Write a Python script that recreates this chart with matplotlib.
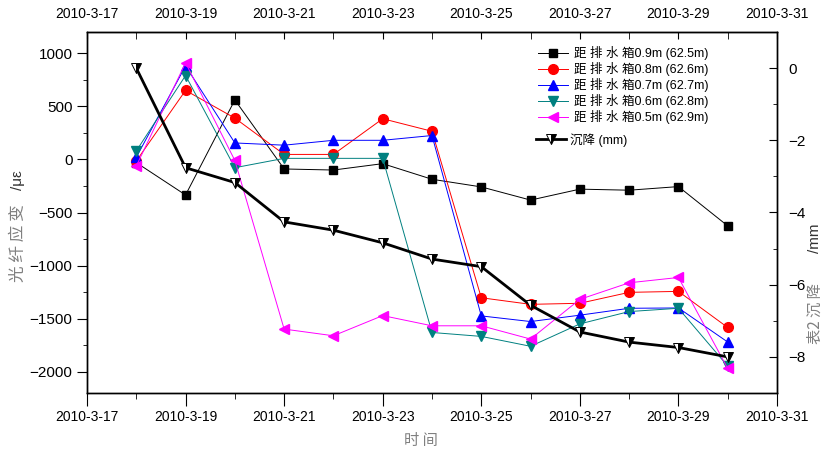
import matplotlib
matplotlib.use("Agg")
import matplotlib.pyplot as plt
import matplotlib.dates as mdates
from matplotlib.ticker import MultipleLocator
import pandas as pd

plt.rcParams['font.family'] = ['Liberation Sans', 'Noto Sans CJK SC', 'DejaVu Sans']

dates = ["2010-03-18", "2010-03-19", "2010-03-20", "2010-03-21", "2010-03-22",
         "2010-03-23", "2010-03-24", "2010-03-25", "2010-03-26", "2010-03-27",
         "2010-03-28", "2010-03-29", "2010-03-30"]
s09 = [-30, -335, 560, -90, -100, -40, -187, -259, -383, -280, -290, -256, -626]
s08 = [-15, 650, 389, 47, 47, 383, 265, -1303, -1365, -1355, -1252, -1243, -1583]
s07 = [20, 880, 155, 134, 180, 180, 225, -1474, -1527, -1467, -1402, -1399, -1720]
s06 = [80, 790, -78, 10, 10, 10, -1630, -1667, -1760, -1549, -1433, -1402, -1947]
s05 = [-62, 910, -10, -1598, -1661, -1471, -1567, -1567, -1692, -1318, -1162, -1112, -1969]
settle = [0.0, -2.76, -3.17, -4.26, -4.49, -4.84, -5.29, -5.50, -6.57, -7.31, -7.59, -7.74, -8.0]
labels = ["距 排 水 箱0.9m (62.5m)", "距 排 水 箱0.8m (62.6m)", "距 排 水 箱0.7m (62.7m)",
          "距 排 水 箱0.6m (62.8m)", "距 排 水 箱0.5m (62.9m)"]
settle_label = "沉降 (mm)"

x = pd.to_datetime(dates)

fig = plt.figure(figsize=(8.23, 4.54), dpi=100)
ax = fig.add_axes([87/823, 1-393/454, (777-87)/823, (393-32)/454])

styles = [("black", "s", 6), ("#FF0000", "o", 7), ("#0000FF", "^", 7.5),
          ("#008080", "v", 7.5), ("#FF00FF", "<", 7.5)]
handles = []
for ser, (c, m, ms), lab in zip([s09, s08, s07, s06, s05], styles, labels):
    h, = ax.plot(x, ser, color=c, lw=0.7, marker=m, ms=ms, mfc=c, mec=c, label=lab)
    handles.append(h)

ax.set_ylim(-2200, 1200)
ax.yaxis.set_major_locator(MultipleLocator(500))
ax.yaxis.set_minor_locator(MultipleLocator(250))
xmin, xmax = pd.Timestamp("2010-03-17"), pd.Timestamp("2010-03-31")
ax.set_xlim(xmin, xmax)
ax.xaxis.set_major_locator(mdates.DayLocator(bymonthday=[17, 19, 21, 23, 25, 27, 29, 31]))
ax.xaxis.set_minor_locator(mdates.DayLocator())
fmt = lambda v, pos: (lambda d: f"{d.year}-{d.month}-{d.day}")(mdates.num2date(v))
ax.xaxis.set_major_formatter(plt.FuncFormatter(fmt))
ax.tick_params(axis='x', which='major', direction='out', length=9, labelsize=10, pad=3)
ax.tick_params(axis='x', which='minor', direction='out', length=4)
ax.tick_params(axis='y', which='major', direction='out', length=7, labelsize=11)
ax.tick_params(axis='y', which='minor', direction='out', length=3)

ax2 = ax.twinx()
h2, = ax2.plot(x, settle, color="black", lw=2, marker="v", ms=7, mfc="black",
               mfcalt="white", fillstyle="right", mec="black", mew=0.7, label=settle_label)
ax2.set_ylim(-9, 1)
ax2.yaxis.set_major_locator(MultipleLocator(2))
ax2.yaxis.set_minor_locator(MultipleLocator(1))
ax2.tick_params(axis='y', which='major', direction='in', length=6, labelsize=11, pad=8)
ax2.tick_params(axis='y', which='minor', direction='in', length=3)

top = ax.secondary_xaxis('top')
top.xaxis.set_major_locator(mdates.DayLocator(bymonthday=[17, 19, 21, 23, 25, 27, 29, 31]))
top.xaxis.set_minor_locator(mdates.DayLocator())
top.xaxis.set_major_formatter(plt.FuncFormatter(fmt))
top.tick_params(which='major', direction='in', length=5, labelsize=10, pad=8)
top.tick_params(which='minor', direction='in', length=5)

for a in (ax, ax2):
    for sp in a.spines.values():
        sp.set_linewidth(1.0)

leg1 = fig.legend(handles=handles, loc='upper left', bbox_to_anchor=(538/823, 1-46/454),
                  frameon=False, fontsize=9, handlelength=2.4, handletextpad=0.45,
                  labelspacing=0.16, borderpad=0, borderaxespad=0)
leg2 = fig.legend(handles=[h2], loc='upper left', bbox_to_anchor=(536/823, 1-133/454),
                  frameon=False, fontsize=9, handlelength=2.4, handletextpad=0.3,
                  borderpad=0, borderaxespad=0)

gray = "#808080"
fig.text(18/823, 1-243/454, "光 纤 应 变", rotation=90, ha='center', va='center',
         fontsize=12, color=gray, family=['Noto Sans CJK SC'])
fig.text(18/823, 1-180/454, "/με", rotation=90, ha='center', va='center',
         fontsize=11, color="#333333")
fig.text(815/823, 1-314/454, "表2 沉 降", rotation=90, ha='center', va='center',
         fontsize=11, color=gray, family=['Noto Sans CJK SC', 'Liberation Sans'])
fig.text(815/823, 1-238/454, "/mm", rotation=90, ha='center', va='center',
         fontsize=11, color="#333333")
fig.text(421/823, 1-440/454, "时 间", ha='center', va='center',
         fontsize=11, color=gray, family=['Noto Sans CJK SC'])

fig.savefig("out.png", dpi=100)
